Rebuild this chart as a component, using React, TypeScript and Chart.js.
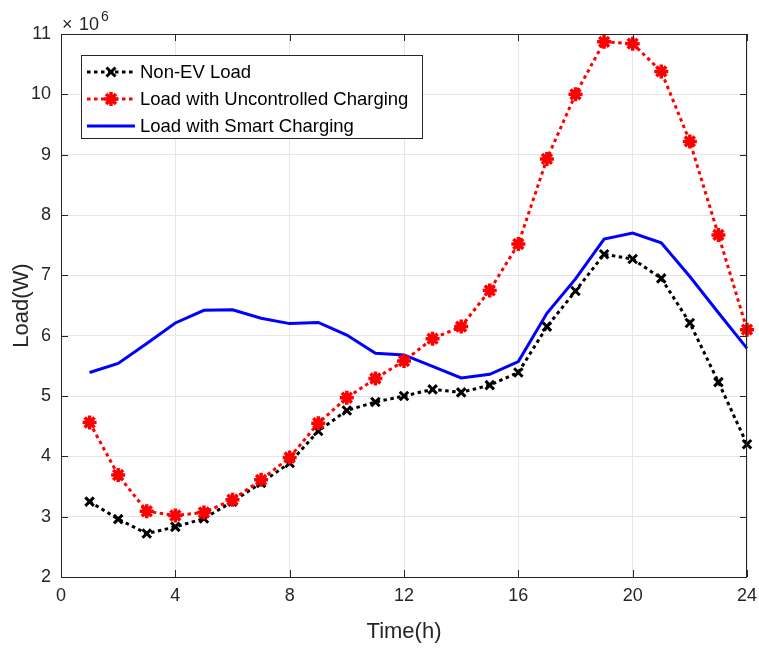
import React, { useEffect, useRef } from "react";
import { Chart, registerables } from "chart.js";

Chart.register(...registerables);

const hours = [1, 2, 3, 4, 5, 6, 7, 8, 9, 10, 11, 12, 13, 14, 15, 16, 17, 18, 19, 20, 21, 22, 23, 24];
const nonEvLoad = [3.25, 2.96, 2.72, 2.83, 2.97, 3.25, 3.56, 3.89, 4.42, 4.76, 4.9, 5.0, 5.11, 5.06, 5.18, 5.39, 6.15, 6.74, 7.35, 7.27, 6.95, 6.21, 5.23, 4.2];
const uncontrolledLoad = [4.56, 3.69, 3.09, 3.02, 3.07, 3.28, 3.61, 3.98, 4.55, 4.97, 5.29, 5.58, 5.95, 6.15, 6.75, 7.52, 8.93, 10.0, 10.87, 10.84, 10.38, 9.22, 7.67, 6.1];
const smartLoad = [5.39, 5.54, 5.87, 6.21, 6.42, 6.43, 6.29, 6.2, 6.22, 6.01, 5.71, 5.68, 5.49, 5.3, 5.36, 5.57, 6.37, 6.94, 7.6, 7.7, 7.54, 6.98, 6.38, 5.79];
const seriesLabels = ["Non-EV Load", "Load with Uncontrolled Charging", "Load with Smart Charging"];
const xTicks = [0, 4, 8, 12, 16, 20, 24];
const yTicks = [2, 3, 4, 5, 6, 7, 8, 9, 10, 11];

const FONT = "'Liberation Sans', Arial, Helvetica, sans-serif";
const TXT = "#262626";

function drawCross(ctx: CanvasRenderingContext2D, x: number, y: number, r: number, color: string, w: number) {
  ctx.save();
  ctx.strokeStyle = color;
  ctx.lineWidth = w;
  ctx.setLineDash([]);
  ctx.beginPath();
  ctx.moveTo(x - r, y - r);
  ctx.lineTo(x + r, y + r);
  ctx.moveTo(x - r, y + r);
  ctx.lineTo(x + r, y - r);
  ctx.stroke();
  ctx.restore();
}

function drawStar(ctx: CanvasRenderingContext2D, x: number, y: number, r: number, color: string, w: number) {
  ctx.save();
  ctx.strokeStyle = color;
  ctx.lineWidth = w;
  ctx.setLineDash([]);
  ctx.beginPath();
  ctx.moveTo(x - r, y);
  ctx.lineTo(x + r, y);
  ctx.moveTo(x, y - r);
  ctx.lineTo(x, y + r);
  const d = r * 0.7071;
  ctx.moveTo(x - d, y - d);
  ctx.lineTo(x + d, y + d);
  ctx.moveTo(x - d, y + d);
  ctx.lineTo(x + d, y - d);
  ctx.stroke();
  ctx.restore();
}

const decorPlugin = {
  id: "decor",
  afterDraw(chart: any) {
    const ctx: CanvasRenderingContext2D = chart.ctx;
    const { left, right, top, bottom } = chart.chartArea;
    const xs = chart.scales.x;
    const ys = chart.scales.y;
    ctx.save();
    // box
    ctx.strokeStyle = TXT;
    ctx.lineWidth = 1;
    ctx.setLineDash([]);
    ctx.strokeRect(left + 0.5, top + 0.5, right - left - 1, bottom - top);
    // inward ticks
    const tl = 7;
    ctx.beginPath();
    xTicks.forEach((t) => {
      const px = Math.round(xs.getPixelForValue(t)) + 0.5;
      ctx.moveTo(px, bottom);
      ctx.lineTo(px, bottom - tl);
      ctx.moveTo(px, top);
      ctx.lineTo(px, top + tl);
    });
    yTicks.forEach((t) => {
      const py = Math.round(ys.getPixelForValue(t)) + 0.5;
      ctx.moveTo(left, py);
      ctx.lineTo(left + tl, py);
      ctx.moveTo(right, py);
      ctx.lineTo(right - tl, py);
    });
    ctx.stroke();

    // legend
    const lx = 81, ly = 55, lw = 341, lh = 83;
    ctx.fillStyle = "#ffffff";
    ctx.fillRect(lx, ly, lw, lh);
    ctx.strokeStyle = TXT;
    ctx.lineWidth = 1;
    ctx.strokeRect(lx + 0.5, ly + 0.5, lw, lh);
    const rows = [72, 99, 126];
    const colors = ["#000000", "#ff0000", "#0000ff"];
    rows.forEach((ry, i) => {
      ctx.save();
      ctx.strokeStyle = colors[i];
      ctx.lineWidth = 3;
      if (i < 2) ctx.setLineDash([3.5, 3.5]);
      ctx.beginPath();
      ctx.moveTo(87, ry);
      ctx.lineTo(135, ry);
      ctx.stroke();
      ctx.restore();
      if (i === 0) drawCross(ctx, 111, ry, 4.5, "#000000", 3);
      if (i === 1) drawStar(ctx, 111, ry, 7, "#ff0000", 3.5);
      ctx.fillStyle = "#000000";
      ctx.font = `18.5px ${FONT}`;
      ctx.textAlign = "left";
      ctx.textBaseline = "middle";
      ctx.fillText(seriesLabels[i], 140, ry + 1);
    });

    // axis titles
    ctx.fillStyle = TXT;
    ctx.font = `22px ${FONT}`;
    ctx.textAlign = "center";
    ctx.textBaseline = "middle";
    ctx.fillText("Time(h)", (left + right) / 2, 632);
    ctx.save();
    ctx.translate(22, (top + bottom) / 2);
    ctx.rotate(-Math.PI / 2);
    ctx.fillText("Load(W)", 0, 0);
    ctx.restore();

    // exponent
    ctx.textAlign = "left";
    ctx.textBaseline = "alphabetic";
    ctx.font = `18px ${FONT}`;
    ctx.fillText("\u00d7", 62, 29.5);
    ctx.fillText("10", 79, 29.5);
    ctx.font = `14px ${FONT}`;
    ctx.fillText("6", 101, 21);
    ctx.restore();
  },
};

export default function App() {
  const ref = useRef<HTMLCanvasElement | null>(null);
  useEffect(() => {
    if (!ref.current) return;
    const mk = (arr: number[]) => hours.map((h, i) => ({ x: h, y: arr[i] }));
    const chart = new Chart(ref.current, {
      type: "line",
      data: {
        datasets: [
          {
            label: seriesLabels[1],
            data: mk(uncontrolledLoad),
            borderColor: "#ff0000",
            backgroundColor: "#ff0000",
            borderWidth: 3,
            borderDash: [3.5, 3.5],
            pointStyle: "star",
            pointRadius: 7,
            pointBorderWidth: 3.5,
            pointBorderColor: "#ff0000",
            pointBackgroundColor: "#ff0000",
            tension: 0,
            clip: false as any,
          },
          {
            label: seriesLabels[0],
            data: mk(nonEvLoad),
            borderColor: "#000000",
            backgroundColor: "#000000",
            borderWidth: 3,
            borderDash: [3.5, 3.5],
            pointStyle: "crossRot",
            pointRadius: 6,
            pointBorderWidth: 3,
            pointBorderColor: "#000000",
            tension: 0,
            clip: false as any,
          },
          {
            label: seriesLabels[2],
            data: mk(smartLoad),
            borderColor: "#0000ff",
            backgroundColor: "#0000ff",
            borderWidth: 3,
            pointRadius: 0,
            tension: 0,
            clip: false as any,
          },
        ],
      },
      options: {
        responsive: false,
        animation: false,
        devicePixelRatio: 1,
        layout: { padding: { left: 0, right: 12, top: 34, bottom: 0 } },
        plugins: { legend: { display: false }, tooltip: { enabled: false } },
        scales: {
          x: {
            type: "linear",
            min: 0,
            max: 24,
            afterBuildTicks: (s: any) => {
              s.ticks = xTicks.map((v) => ({ value: v }));
            },
            afterFit: (s: any) => {
              s.height = 71;
              s.paddingLeft = 0;
              s.paddingRight = 0;
            },
            ticks: { color: TXT, font: { family: FONT, size: 18 }, padding: 8, maxRotation: 0 },
            grid: { color: "#e6e6e6", lineWidth: 1, drawTicks: false },
            border: { display: false },
          },
          y: {
            type: "linear",
            min: 2,
            max: 11,
            afterBuildTicks: (s: any) => {
              s.ticks = yTicks.map((v) => ({ value: v }));
            },
            afterFit: (s: any) => {
              s.width = 61;
              s.paddingTop = 0;
              s.paddingBottom = 0;
            },
            ticks: { color: TXT, font: { family: FONT, size: 18 }, padding: 10 },
            grid: { color: "#e6e6e6", lineWidth: 1, drawTicks: false },
            border: { display: false },
          },
        },
      },
      plugins: [decorPlugin],
    });
    return () => chart.destroy();
  }, []);
  return (
    <div style={{ position: "absolute", left: 0, top: 0, width: 759, height: 648, background: "#fff" }}>
      <canvas ref={ref} width={759} height={648} style={{ display: "block" }} />
    </div>
  );
}
